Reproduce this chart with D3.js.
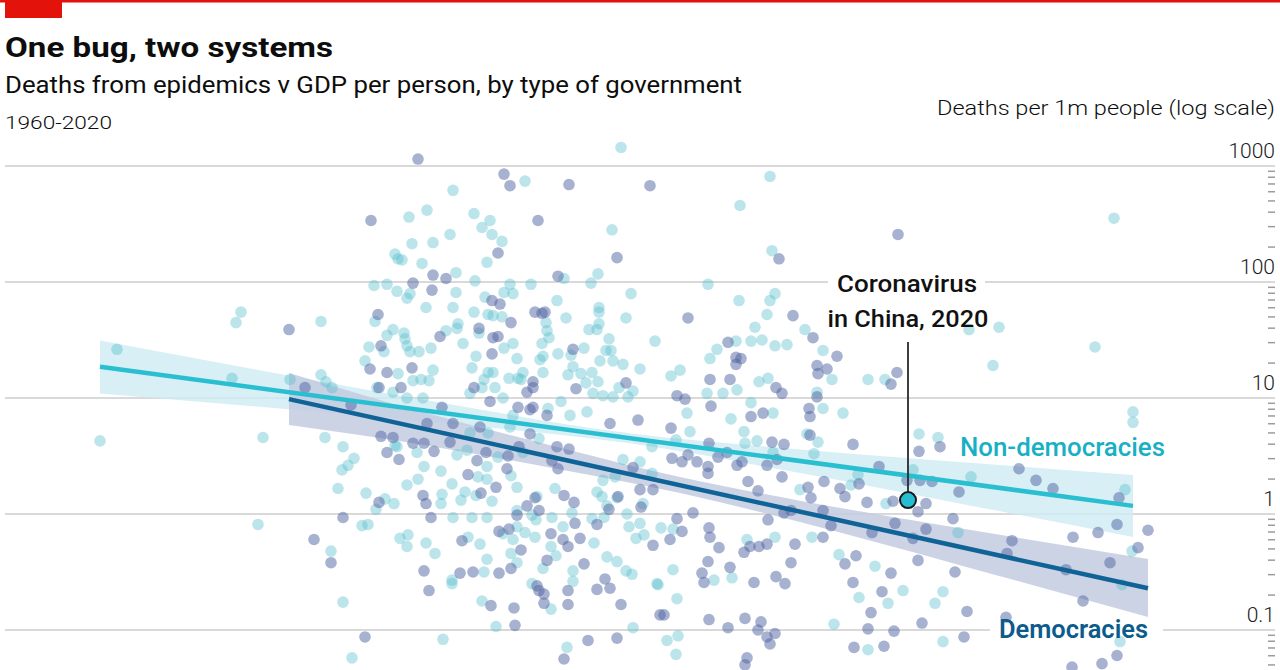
<!DOCTYPE html>
<html><head><meta charset="utf-8">
<script src="https://cdn.jsdelivr.net/npm/d3@7"></script>
<style>body{margin:0;background:#fff;} svg{display:block;} text{font-family:Roboto,"Open Sans",sans-serif;}</style>
</head><body><svg id="c" width="1280" height="670"></svg>
<script>
// x: log10 GDP per person (approx.), y: log10 deaths per 1m people
const nonDemocracies = [
[2.854,2.62],[2.818,2.56],[2.824,2.33],[2.790,2.24],[2.804,2.19],[2.796,2.20],[2.844,2.16],[2.748,1.97],[2.774,1.98],[2.794,1.92],[2.820,1.90],[2.814,1.86],[2.852,1.78],[2.750,1.66],[2.482,1.74],[2.472,1.65],[2.642,1.66],[2.786,1.59],[2.774,1.54],[2.808,1.56],[2.810,1.51],[2.738,1.44],[2.768,1.40],[2.814,1.45],[2.820,1.40],[2.838,1.40],[2.730,1.32],[2.796,1.21],[2.234,1.42],[2.464,1.17],[2.580,1.16],[2.642,1.20],[2.652,1.14],[2.664,1.09],[2.754,1.09],[2.826,1.15],[2.842,1.16],[2.786,1.05],[2.814,1.00],[2.846,1.00],
[2.200,0.63],[2.526,0.66],[2.650,0.66],[2.686,0.58],[2.708,0.48],[2.696,0.42],[2.684,0.38],[2.790,0.59],[2.794,0.58],[2.834,0.53],[2.848,0.41],[2.676,0.22],[2.732,0.18],[2.814,0.25],[2.836,0.30],[2.770,0.13],[2.788,0.09],[2.752,0.04],[2.516,-0.09],[2.724,-0.10],[2.736,-0.09],[2.662,-0.32],[2.800,-0.21],[2.816,-0.18],[2.814,-0.28],[2.852,-0.25],[2.686,-0.76],[2.704,-1.24],
[3.242,3.16],[3.050,2.87],[2.906,2.79],[2.948,2.59],[2.980,2.53],[2.964,2.47],[2.984,2.41],[3.004,2.35],[3.224,2.45],[2.900,2.41],[2.866,2.34],[2.974,2.17],[2.912,2.08],[2.950,2.01],[2.912,1.91],[3.128,2.03],[3.196,2.07],[3.182,1.99],[3.062,1.98],[3.020,1.98],[3.026,1.90],[3.008,1.91],[2.970,1.87],[3.262,1.90],[3.114,1.84],[2.906,1.78],[2.948,1.74],[2.976,1.72],[2.986,1.71],[3.004,1.70],[3.198,1.78],[3.198,1.74],[3.252,1.69],[3.132,1.69],[3.092,1.65],[3.094,1.58],[3.098,1.52],[3.084,1.47],[2.916,1.64],[2.914,1.60],[2.892,1.58],[2.958,1.56],[2.926,1.47],[2.862,1.43],[3.008,1.43],[3.026,1.47],[2.952,1.36],[3.034,1.34],[3.116,1.38],[3.142,1.37],[3.168,1.43],[3.080,1.33],[3.086,1.36],[3.086,1.22],[3.178,1.59],[3.194,1.59],[3.198,1.64],[3.218,1.51],[3.222,1.41],[3.212,1.41],[3.200,1.32],[3.226,1.32],[3.246,1.29],[3.280,1.25],[3.310,1.49],[3.146,1.27],[3.136,1.20],[3.162,1.21],[3.172,1.13],[3.184,1.22],[3.196,1.14],[3.238,1.09],[3.266,1.06],[2.866,1.24],[2.858,1.15],[2.944,1.26],[2.976,1.22],[2.986,1.22],[2.968,1.16],[2.990,1.09],[2.964,1.09],[3.018,1.17],[3.036,1.17],[3.046,1.22],[3.042,1.16],[2.940,1.04],[3.006,1.00],[3.122,0.97],[3.186,1.04],[3.206,1.02],[3.226,1.01],[3.256,1.01],
[2.884,0.17],[2.882,0.09],[2.904,0.26],[2.882,0.37],[2.956,0.32],[2.974,0.30],[2.930,0.19],[2.922,0.12],[2.952,0.16],[2.984,0.11],[2.906,-0.03],[2.944,-0.03],[2.974,-0.03],[3.034,0.23],[3.022,0.33],[2.974,0.41],[2.914,0.51],[2.934,0.55],[2.996,0.49],[3.046,0.53],[3.078,0.65],[3.110,0.22],[3.074,0.15],[3.034,0.03],[3.064,-0.01],[3.072,-0.05],[3.104,-0.03],[3.144,0.01],[3.126,-0.11],[3.050,-0.16],[3.006,-0.17],[3.034,-0.11],[3.070,-0.20],[3.026,-0.22],[3.188,-0.25],[3.102,-0.28],[3.112,-0.36],[3.086,-0.47],[3.022,-0.34],[3.034,-0.42],[2.974,-0.39],[2.960,-0.26],[2.936,-0.20],[2.870,-0.34],[2.968,-0.50],[2.904,-0.57],[2.904,-0.60],[3.146,-0.49],[3.146,-0.58],[3.064,-0.60],[3.102,-0.82],[3.214,-0.37],[3.234,-0.41],[3.252,-0.49],[3.264,-0.52],[3.314,-0.60],[2.964,-0.75],[2.992,-0.97],[2.886,-1.08],[3.134,-1.15],[3.266,-0.98],[3.286,0.09],[3.258,-0.11],[3.280,-0.08],[3.272,-0.21],[3.288,-0.18],[3.184,-0.04],[3.208,-0.03],[3.214,0.07],[3.204,0.15],[3.234,0.14],[3.194,0.19],[3.206,0.29],[3.230,0.32],[3.246,0.47],[3.280,0.45],[3.304,0.35],[3.254,0.00],[3.174,0.88],[3.140,0.85],[3.096,0.91],[3.026,0.85],[3.020,0.75],[2.976,0.70],[2.940,0.70],
[3.540,2.91],[3.480,2.66],[3.544,2.27],[3.416,1.98],[3.478,1.84],[3.550,1.90],[3.540,1.84],[3.534,1.72],[3.510,1.61],[3.472,1.49],[3.502,1.49],[3.524,1.50],[3.550,1.45],[3.574,1.46],[3.434,1.42],[3.420,1.34],[3.610,1.59],[3.646,1.41],[3.664,1.16],[3.342,1.19],[3.360,1.24],[3.518,1.14],[3.536,1.17],[3.736,1.16],[3.770,1.16],[3.414,1.04],[3.446,1.04],[3.474,1.07],[3.634,1.05],[3.502,0.96],[3.938,1.59],
[3.374,0.87],[3.462,0.82],[3.546,0.87],[3.646,0.91],[3.686,0.87],[3.380,0.71],[3.352,0.64],[3.304,0.58],[3.490,0.61],[3.514,0.63],[3.546,0.53],[3.488,0.71],[3.636,0.62],[3.628,0.52],[3.600,0.21],[3.702,0.25],[3.716,0.34],[3.772,0.09],[3.826,0.38],[3.838,0.69],[3.876,0.66],[3.916,-0.16],[3.322,-0.12],[3.346,-0.13],[3.494,-0.22],[3.550,-0.20],[3.624,-0.20],[3.678,-0.35],[3.750,-0.45],[3.806,-0.66],[3.776,-0.77],[3.718,-0.72],[3.886,-0.67],[3.870,-0.77],[3.668,-0.95],[3.736,-1.17],[3.886,-1.10],[3.346,-0.48],[3.316,-0.61],[3.428,-0.57],[3.464,-0.55],[3.354,-0.73],[3.334,-1.09],[3.356,-1.05],[3.352,-1.21],
[3.614,0.69],[4.266,0.88],[4.266,0.79],[3.942,0.32],[4.250,0.21],[4.264,-0.32],[4.244,-0.61],[4.240,-1.10],
[4.228,2.55],[3.998,1.61],[4.190,1.44],[3.986,1.28]
];
const democracies = [
[2.836,3.06],[2.742,2.53],[2.826,1.99],[2.756,1.72],[2.578,1.59],[2.762,1.45],[2.740,1.25],[2.774,1.22],[2.824,1.26],[2.610,1.09],[2.758,1.09],[2.802,1.09],[2.702,0.94],
[2.762,0.67],[2.786,0.66],[2.774,0.53],[2.798,0.47],[2.826,0.61],[2.848,0.61],[2.758,0.10],[2.846,0.16],[2.852,0.09],[2.686,-0.03],[2.628,-0.22],[2.662,-0.42],[2.848,-0.49],[2.858,-0.66],[2.730,-1.06],
[3.008,2.93],[3.020,2.83],[3.138,2.84],[3.300,2.83],[3.076,2.53],[2.996,2.25],[3.234,2.21],[2.866,2.06],[2.892,2.03],[2.864,1.93],[3.116,2.05],[2.984,1.84],[3.000,1.81],[3.070,1.74],[3.084,1.73],[3.090,1.74],[3.022,1.65],[2.958,1.60],[2.880,1.53],[2.986,1.52],[2.996,1.53],[2.984,1.38],[3.146,1.42],[3.152,1.08],[3.252,1.13],[2.948,1.09],[3.066,1.14],[3.066,1.09],[3.054,1.05],[2.980,0.97],[2.884,0.92],[3.036,0.92],[3.066,0.92],
[2.862,-0.03],[2.936,0.34],[2.992,0.23],[2.962,0.18],[3.014,0.39],[2.954,0.46],[2.972,0.53],[2.900,0.62],[2.868,0.54],[3.016,0.50],[3.038,0.58],[2.906,0.78],[3.060,0.69],[3.114,0.58],[3.138,0.56],[3.104,0.46],[3.116,0.39],[3.128,0.16],[3.148,0.10],[3.070,0.14],[3.054,0.07],[3.078,0.03],[3.034,-0.01],[3.150,-0.08],[2.998,-0.15],[3.018,-0.13],[3.102,-0.17],[3.126,-0.22],[3.160,-0.21],[3.136,-0.28],[3.094,-0.40],[3.042,-0.31],[3.022,-0.47],[2.924,-0.23],[2.920,-0.51],[2.946,-0.50],[2.998,-0.51],[3.168,-0.43],[3.074,-0.62],[3.078,-0.66],[3.088,-0.69],[3.088,-0.77],[3.136,-0.66],[3.136,-0.78],[3.194,-0.65],[3.210,-0.56],[3.220,-0.64],[3.242,-0.78],[2.982,-0.79],[3.028,-0.81],[3.030,-0.96],[3.128,-1.25],[3.176,-1.09],[3.234,-1.07],[3.320,-0.87],[3.280,0.21],[3.282,0.06],[3.306,-0.27],[3.194,-0.09],[3.218,0.04],[3.236,0.15],[3.266,0.40],[3.306,0.21],[3.220,0.78],[3.276,0.81],[3.094,0.85],[3.060,0.90],[2.960,0.75],[2.854,0.78],
[3.796,2.41],[3.558,2.20],[3.376,1.69],[3.586,1.71],[3.456,1.48],[3.472,1.35],[3.482,1.34],[3.472,1.29],[3.626,1.52],[3.674,1.36],[3.634,1.28],[3.654,1.25],[3.636,1.21],[3.420,1.16],[3.460,1.16],[3.782,1.12],[3.794,1.22],[3.552,1.09],[3.564,1.04],[3.634,1.01],[3.354,1.02],[3.370,0.99],[3.422,0.93],
[3.502,0.84],[3.526,0.87],[3.620,0.84],[3.342,0.74],[3.418,0.61],[3.344,0.48],[3.364,0.45],[3.376,0.51],[3.394,0.45],[3.416,0.41],[3.416,0.35],[3.436,0.49],[3.454,0.53],[3.474,0.42],[3.484,0.45],[3.544,0.62],[3.568,0.60],[3.534,0.42],[3.554,0.47],[3.620,0.68],[3.706,0.60],[3.564,0.32],[3.496,0.28],[3.516,0.20],[3.616,0.23],[3.622,0.14],[3.648,0.28],[3.680,0.22],[3.690,0.15],[3.718,0.26],[3.758,0.41],[3.734,0.10],[3.786,0.11],[3.838,0.54],[3.880,0.58],[3.864,0.28],[3.918,0.19],[3.852,0.09],[3.836,0.02],[3.906,-0.04],[3.852,-0.13],[3.790,-0.08],[3.744,-0.16],[3.826,-0.21],[3.836,-0.40],[3.910,-0.50],[3.354,-0.04],[3.364,-0.15],[3.386,0.01],[3.418,-0.12],[3.420,-0.20],[3.438,-0.29],[3.340,-0.22],[3.500,-0.28],[3.488,-0.33],[3.518,-0.28],[3.534,-0.26],[3.590,-0.26],[3.536,-0.05],[3.568,0.01],[3.582,0.03],[3.662,-0.10],[3.646,-0.20],[3.690,-0.43],[3.712,-0.36],[3.782,-0.51],[3.706,-0.59],[3.764,-0.67],[3.742,-0.85],[3.934,-0.84],[3.844,-0.94],[3.788,-1.01],[3.736,-0.99],[3.708,-1.15],[3.768,-1.14],[3.928,-1.06],[3.404,-0.51],[3.408,-0.59],[3.416,-0.41],[3.460,-0.46],[3.508,-0.59],[3.552,-0.54],[3.570,-0.60],[3.582,-0.42],[3.328,-0.87],[3.418,-0.91],[3.456,-0.98],[3.490,-0.90],[3.516,-1.00],[3.522,-0.93],[3.534,-1.06],[3.540,-1.12],[3.550,-1.03],[3.494,-1.24],[3.490,-1.30],
[3.618,0.91],[3.814,0.29],[3.646,0.03],[3.840,0.29],
[4.038,0.39],[4.072,0.29],[4.106,0.22],[4.238,0.14],[4.024,-0.23],[4.014,-0.34],[4.146,-0.20],[4.196,-0.16],[4.234,-0.09],[4.296,-0.14],[4.276,-0.29],[4.220,-0.42],[4.132,-0.48],[4.166,-0.75],[4.012,-0.89],[4.234,-1.22],[4.204,-1.29],[4.144,-1.32]
];
// regression fits (log10 values) and confidence bands
const nonDemFitX = [2.200, 4.266];
const nonDemFitY = [1.27, 0.07];
const nonDemBandX  = [2.200, 2.500, 2.860, 3.260, 3.600, 3.960, 4.266];
const nonDemBandHi = [1.496, 1.255, 0.976, 0.696, 0.557, 0.436, 0.336];
const nonDemBandLo = [1.039, 0.931, 0.793, 0.609, 0.353, 0.057, -0.198];
const demFitX = [2.578, 4.296];
const demFitY = [0.99, -0.64];
const demBandX  = [2.578, 2.860, 3.120, 3.360, 3.600, 3.920, 4.296];
const demBandHi = [1.216, 0.862, 0.572, 0.319, 0.115, -0.122, -0.388];
const demBandLo = [0.767, 0.586, 0.383, 0.181, -0.070, -0.441, -0.888];
const chinaPoint = [3.816, 0.12];
const yTicks = [0.1, 1, 10, 100, 1000];
const yTickLabels = ["0.1", "1", "10", "100", "1000"];

const svg = d3.select("#c");
const W = 1280;
const x = d3.scaleLinear().domain([2, 4.56]).range([0, 1280]);
const y = d3.scaleLog().domain([0.1, 1000]).range([630, 166]);
const Y = v => y(Math.pow(10, v));

// header
svg.append("rect").attr("x",0).attr("y",0).attr("width",W).attr("height",2.5).attr("fill","#e3120b");
svg.append("rect").attr("x",5).attr("y",0).attr("width",57).attr("height",18).attr("fill","#e3120b");
svg.append("text").attr("x",5).attr("y",57).attr("font-size",28).attr("font-weight",700).attr("fill","#0d0d0d")
  .attr("textLength",328).attr("lengthAdjust","spacingAndGlyphs").text("One bug, two systems");
svg.append("text").attr("x",5).attr("y",93).attr("font-size",23).attr("fill","#0d0d0d")
  .attr("textLength",737).attr("lengthAdjust","spacingAndGlyphs").text("Deaths from epidemics v GDP per person, by type of government");
svg.append("text").attr("x",5).attr("y",129).attr("font-size",19).attr("font-weight",300).attr("fill","#0d0d0d")
  .attr("textLength",107).attr("lengthAdjust","spacingAndGlyphs").text("1960-2020");
svg.append("text").attr("x",1275).attr("y",115).attr("text-anchor","end").attr("font-size",20.5).attr("font-weight",300).attr("fill","#0d0d0d")
  .attr("textLength",338).attr("lengthAdjust","spacingAndGlyphs").text("Deaths per 1m people (log scale)");

// grid
svg.append("g").selectAll("line").data(yTicks).join("line")
  .attr("x1",5).attr("x2",1275).attr("y1",d=>y(d)).attr("y2",d=>y(d))
  .attr("stroke","#cccccc").attr("stroke-width",1.6);
// minor ticks
const minor = [];
for (let k=-2;k<=2;k++) for (let m=2;m<=9;m++){ const v=m*Math.pow(10,k); if (y(v)<=670 && v<1000) minor.push(v); }
svg.append("g").selectAll("line").data(minor).join("line")
  .attr("x1",1268).attr("x2",1275).attr("y1",d=>y(d)).attr("y2",d=>y(d))
  .attr("stroke","#9c9c9c").attr("stroke-width",1.5);
svg.append("g").selectAll("text").data(yTicks).join("text")
  .attr("x",1275).attr("y",d=>y(d)-8).attr("text-anchor","end").attr("font-size",21).attr("font-weight",300).attr("fill","#1a1a1a")
  .text((d,i)=>yTickLabels[i]);
// knockouts in gridlines for labels
svg.append("rect").attr("x",828).attr("y",y(100)-3).attr("width",157).attr("height",6).attr("fill","#fff");
svg.append("rect").attr("x",990).attr("y",y(0.1)-3).attr("width",173).attr("height",6).attr("fill","#fff");

// bands
const bandArea = (X, hi, lo) => d3.area().x((d,i)=>x(X[i])).y0((d,i)=>Y(lo[i])).y1((d,i)=>Y(hi[i])).curve(d3.curveMonotoneX)(X);
svg.append("path").attr("d", bandArea(nonDemBandX, nonDemBandHi, nonDemBandLo)).attr("fill","#cdebf2").attr("opacity",0.8);
svg.append("path").attr("d", bandArea(demBandX, demBandHi, demBandLo)).attr("fill","#c3cbe0").attr("opacity",0.85);

// points
svg.append("g").selectAll("circle").data(nonDemocracies).join("circle")
  .attr("cx",d=>x(d[0])).attr("cy",d=>Y(d[1])).attr("r",5.8).attr("fill","#56bece").attr("fill-opacity",0.4);
svg.append("g").selectAll("circle").data(democracies).join("circle")
  .attr("cx",d=>x(d[0])).attr("cy",d=>Y(d[1])).attr("r",5.8).attr("fill","#4f64a2").attr("fill-opacity",0.5);

// fit lines
const fitLine = (X, Yv) => d3.line().x((d,i)=>x(X[i])).y((d,i)=>Y(Yv[i]))(X);
svg.append("path").attr("d", fitLine(nonDemFitX, nonDemFitY)).attr("stroke","#29bfd1").attr("stroke-width",4.5).attr("fill","none");
svg.append("path").attr("d", fitLine(demFitX, demFitY)).attr("stroke","#0f6396").attr("stroke-width",4.5).attr("fill","none");

// labels
svg.append("text").attr("x",960).attr("y",456).attr("font-size",25).attr("font-weight",500).attr("fill","#18b0c4")
  .attr("textLength",205).attr("lengthAdjust","spacingAndGlyphs").text("Non-democracies");
svg.append("text").attr("x",999).attr("y",638).attr("font-size",25).attr("font-weight",600).attr("fill","#0c5b8c")
  .attr("textLength",149).attr("lengthAdjust","spacingAndGlyphs").text("Democracies");

// annotation
const cx = x(chinaPoint[0]), cy = Y(chinaPoint[1]);
svg.append("line").attr("x1",cx).attr("x2",cx).attr("y1",342).attr("y2",cy-8).attr("stroke","#2a2a2a").attr("stroke-width",1.8);
svg.append("circle").attr("cx",cx).attr("cy",cy).attr("r",8).attr("fill","#27bdd0").attr("stroke","#1a1a1a").attr("stroke-width",2);
svg.append("text").attr("x",cx-1).attr("y",292).attr("text-anchor","middle").attr("font-size",23).attr("font-weight",500).attr("fill","#111")
  .attr("textLength",140).attr("lengthAdjust","spacingAndGlyphs").text("Coronavirus");
svg.append("text").attr("x",cx).attr("y",327).attr("text-anchor","middle").attr("font-size",23).attr("font-weight",500).attr("fill","#111")
  .attr("textLength",161).attr("lengthAdjust","spacingAndGlyphs").text("in China, 2020");
</script></body></html>
